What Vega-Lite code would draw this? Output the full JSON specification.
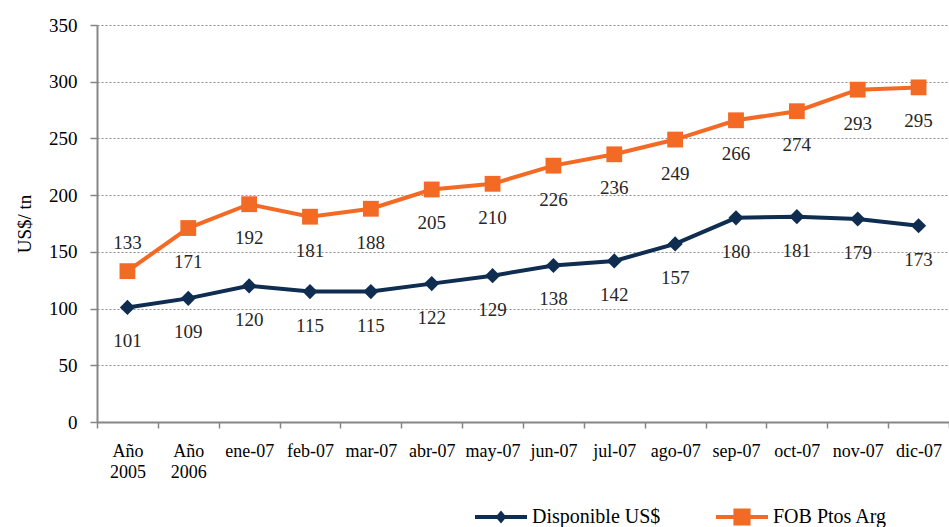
{
  "$schema": "https://vega.github.io/schema/vega-lite/v6.json",
  "width": 852,
  "height": 397,
  "autosize": "none",
  "padding": {"left": 97, "top": 25, "right": 0, "bottom": 105},
  "background": "white",
  "config": {
    "font": "Liberation Serif",
    "view": {"stroke": null},
    "axis": {"labelFont": "Liberation Serif", "titleFont": "Liberation Serif"},
    "legend": {"labelFont": "Liberation Serif"},
    "text": {"font": "Liberation Serif"}
  },
  "data": {
    "values": [
      {"mes": "Año 2005", "serie": "Disponible US$", "valor": 101},
      {"mes": "Año 2006", "serie": "Disponible US$", "valor": 109},
      {"mes": "ene-07", "serie": "Disponible US$", "valor": 120},
      {"mes": "feb-07", "serie": "Disponible US$", "valor": 115},
      {"mes": "mar-07", "serie": "Disponible US$", "valor": 115},
      {"mes": "abr-07", "serie": "Disponible US$", "valor": 122},
      {"mes": "may-07", "serie": "Disponible US$", "valor": 129},
      {"mes": "jun-07", "serie": "Disponible US$", "valor": 138},
      {"mes": "jul-07", "serie": "Disponible US$", "valor": 142},
      {"mes": "ago-07", "serie": "Disponible US$", "valor": 157},
      {"mes": "sep-07", "serie": "Disponible US$", "valor": 180},
      {"mes": "oct-07", "serie": "Disponible US$", "valor": 181},
      {"mes": "nov-07", "serie": "Disponible US$", "valor": 179},
      {"mes": "dic-07", "serie": "Disponible US$", "valor": 173},
      {"mes": "Año 2005", "serie": "FOB Ptos Arg", "valor": 133},
      {"mes": "Año 2006", "serie": "FOB Ptos Arg", "valor": 171},
      {"mes": "ene-07", "serie": "FOB Ptos Arg", "valor": 192},
      {"mes": "feb-07", "serie": "FOB Ptos Arg", "valor": 181},
      {"mes": "mar-07", "serie": "FOB Ptos Arg", "valor": 188},
      {"mes": "abr-07", "serie": "FOB Ptos Arg", "valor": 205},
      {"mes": "may-07", "serie": "FOB Ptos Arg", "valor": 210},
      {"mes": "jun-07", "serie": "FOB Ptos Arg", "valor": 226},
      {"mes": "jul-07", "serie": "FOB Ptos Arg", "valor": 236},
      {"mes": "ago-07", "serie": "FOB Ptos Arg", "valor": 249},
      {"mes": "sep-07", "serie": "FOB Ptos Arg", "valor": 266},
      {"mes": "oct-07", "serie": "FOB Ptos Arg", "valor": 274},
      {"mes": "nov-07", "serie": "FOB Ptos Arg", "valor": 293},
      {"mes": "dic-07", "serie": "FOB Ptos Arg", "valor": 295}
    ]
  },
  "encoding": {
    "x": {
      "field": "mes",
      "type": "nominal",
      "sort": null,
      "scale": {"type": "band", "paddingInner": 0, "paddingOuter": 0},
      "axis": {
        "title": null,
        "labelAngle": 0,
        "labelExpr": "split(datum.label, ' ')",
        "labelFontSize": 18,
        "labelLineHeight": 21,
        "labelColor": "#000000",
        "labelPadding": 14,
        "labelBaseline": "top",
        "tickBand": "extent",
        "tickSize": 6,
        "tickColor": "#868686",
        "tickWidth": 1.5,
        "domainColor": "#868686",
        "domainWidth": 2,
        "grid": false
      }
    },
    "y": {
      "field": "valor",
      "type": "quantitative",
      "scale": {"domain": [0, 350], "nice": false},
      "axis": {
        "title": "US$/ tn",
        "titleFontSize": 19,
        "titleFontWeight": "normal",
        "titleColor": "#000000",
        "titlePadding": 14,
        "values": [0, 50, 100, 150, 200, 250, 300, 350],
        "labelFontSize": 19,
        "labelColor": "#000000",
        "labelPadding": 13,
        "tickSize": 7,
        "tickColor": "#868686",
        "tickWidth": 1.5,
        "domainColor": "#868686",
        "domainWidth": 2,
        "grid": true,
        "gridColor": "#8c8c8c",
        "gridDash": [2, 2],
        "gridWidth": 1
      }
    },
    "color": {
      "field": "serie",
      "type": "nominal",
      "scale": {"domain": ["Disponible US$", "FOB Ptos Arg"], "range": ["#0E2D50", "#F26A24"]},
      "legend": {
        "title": null,
        "orient": "none",
        "legendX": 378,
        "legendY": 466,
        "direction": "horizontal",
        "symbolSize": 2704,
        "symbolStrokeWidth": 0,
        "symbolOpacity": 1,
        "labelFont": "Liberation Serif",
        "labelFontSize": 20,
        "labelColor": "#000000",
        "labelOffset": 5,
        "columnPadding": 55,
        "encode": {
          "symbols": {
            "update": {
              "shape": {"signal": "datum.value == 'Disponible US$' ? 'M-1,-0.076L1,-0.076L1,0.076L-1,0.076Z M0,-0.25L0.21,0L0,0.25L-0.21,0Z' : 'M-1,-0.076L1,-0.076L1,0.076L-1,0.076Z M-0.33,-0.33L0.33,-0.33L0.33,0.33L-0.33,0.33Z'"},
              "fill": {"signal": "datum.value == 'Disponible US$' ? '#0E2D50' : '#F26A24'"},
              "size": {"value": 2704},
              "strokeWidth": {"value": 0}
            }
          }
        }
      }
    }
  },
  "layer": [
    {
      "mark": {"type": "line", "strokeWidth": 4}
    },
    {
      "transform": [{"filter": "datum.serie == 'Disponible US$'"}],
      "mark": {"type": "point", "filled": true, "opacity": 1, "shape": "diamond", "size": 230}
    },
    {
      "transform": [{"filter": "datum.serie == 'FOB Ptos Arg'"}],
      "mark": {"type": "point", "filled": true, "opacity": 1, "shape": "square", "size": 250}
    },
    {
      "transform": [{"filter": "!(datum.serie == 'FOB Ptos Arg' && datum.mes == 'Año 2005')"}],
      "mark": {"type": "text", "baseline": "middle", "dy": 34, "fontSize": 19, "font": "Liberation Serif"},
      "encoding": {
        "text": {"field": "valor", "type": "quantitative"},
        "color": {"value": "#262626"}
      }
    },
    {
      "transform": [{"filter": "datum.serie == 'FOB Ptos Arg' && datum.mes == 'Año 2005'"}],
      "mark": {"type": "text", "baseline": "middle", "dy": -28, "fontSize": 19, "font": "Liberation Serif"},
      "encoding": {
        "text": {"field": "valor", "type": "quantitative"},
        "color": {"value": "#262626"}
      }
    }
  ]
}
